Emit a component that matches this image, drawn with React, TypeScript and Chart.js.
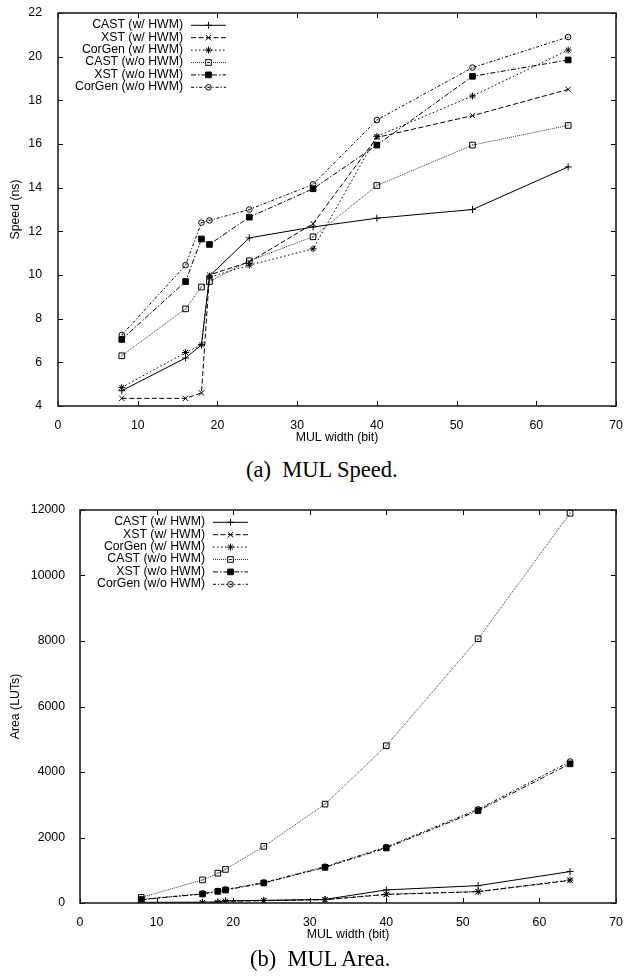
import React, { useEffect, useRef } from 'react';
import { Chart, registerables } from 'chart.js';
import { drawPoint } from 'chart.js/helpers';

Chart.register(...registerables);

// ---- data ----
const widths = [8, 16, 18, 19, 24, 32, 40, 52, 64];
const seriesNames = [
  'CAST (w/ HWM)',
  'XST (w/ HWM)',
  'CorGen (w/ HWM)',
  'CAST (w/o HWM)',
  'XST (w/o HWM)',
  'CorGen (w/o HWM)',
];

const speedCastHwm = [4.7, 6.2, 6.8, 9.95, 11.7, 12.2, 12.6, 13.0, 14.95];
const speedXstHwm = [4.35, 4.35, 4.6, 10.0, 10.6, 12.35, 16.3, 17.3, 18.5];
const speedCorGenHwm = [4.85, 6.45, 6.8, 9.9, 10.45, 11.2, 16.35, 18.2, 20.3];
const speedCastNoHwm = [6.3, 8.45, 9.45, 9.7, 10.65, 11.75, 14.1, 15.95, 16.85];
const speedXstNoHwm = [7.05, 9.7, 11.65, 11.4, 12.65, 13.95, 15.95, 19.1, 19.85];
const speedCorGenNoHwm = [7.25, 10.45, 12.4, 12.5, 13.0, 14.15, 17.1, 19.5, 20.9];

const areaCastHwm = [20, 25, 35, 70, 80, 110, 400, 530, 960];
const areaXstHwm = [5, 10, 15, 50, 70, 100, 260, 345, 690];
const areaCorGenHwm = [8, 12, 18, 55, 75, 105, 270, 350, 700];
const areaCastNoHwm = [170, 705, 910, 1025, 1730, 3020, 4800, 8070, 11900];
const areaXstNoHwm = [100, 275, 355, 395, 610, 1090, 1680, 2820, 4250];
const areaCorGenNoHwm = [110, 285, 370, 410, 625, 1110, 1710, 2860, 4320];

const xTickValues = [0, 10, 20, 30, 40, 50, 60, 70];
const speedTickValues = [4, 6, 8, 10, 12, 14, 16, 18, 20, 22];
const areaTickValues = [0, 2000, 4000, 6000, 8000, 10000, 12000];

// ---- styles ----
const FONT = '"Liberation Sans", Arial, Helvetica, sans-serif';
const seriesStyles = [
  { pointStyle: 'cross', radius: 3.5, dash: [], fill: 'rgba(0,0,0,0)', color: '#000', dot: false },
  { pointStyle: 'crossRot', radius: 3.8, dash: [5, 2.5], fill: 'rgba(0,0,0,0)', color: '#000', dot: false },
  { pointStyle: 'star', radius: 3.5, dash: [1.6, 2.4], fill: 'rgba(0,0,0,0)', color: '#000', dot: false },
  { pointStyle: 'rect', radius: 4, dash: [1, 1], fill: 'rgba(0,0,0,0)', color: '#333', dot: true },
  { pointStyle: 'rect', radius: 4, dash: [5, 2, 1.5, 2], fill: '#000', color: '#000', dot: false },
  { pointStyle: 'circle', radius: 2.8, dash: [3, 2, 1.2, 2], fill: 'rgba(0,0,0,0)', color: '#000', dot: true },
];

function makeDatasets(series: number[][]) {
  return series.map((vals, i) => {
    const st = seriesStyles[i];
    return {
      label: seriesNames[i],
      data: widths.map((x, j) => ({ x, y: vals[j] })),
      borderColor: st.color,
      borderWidth: 1,
      borderDash: st.dash,
      pointStyle: st.pointStyle,
      pointRadius: st.radius,
      pointBorderColor: '#000',
      pointBackgroundColor: st.fill,
      pointBorderWidth: 1,
      centerDot: st.dot,
      fill: false,
      tension: 0,
    };
  });
}

const gnuFrame = {
  id: 'gnuFrame',
  afterDatasetsDraw(chart: any) {
    const { ctx, chartArea: a, scales } = chart;
    ctx.save();
    // centre dots of open markers
    ctx.fillStyle = '#000';
    chart.data.datasets.forEach((ds: any, i: number) => {
      if (!ds.centerDot) return;
      chart.getDatasetMeta(i).data.forEach((el: any) => {
        ctx.fillRect(Math.round(el.x) - 0.5, Math.round(el.y) - 0.5, 1, 1);
      });
    });
    ctx.setLineDash([]);
    ctx.strokeStyle = '#000';
    ctx.lineWidth = 1;
    const L = 5;
    ctx.beginPath();
    scales.x.ticks.forEach((t: any) => {
      const px = Math.round(scales.x.getPixelForValue(t.value)) + 0.5;
      ctx.moveTo(px, a.bottom);
      ctx.lineTo(px, a.bottom - L);
      ctx.moveTo(px, a.top);
      ctx.lineTo(px, a.top + L);
    });
    scales.y.ticks.forEach((t: any) => {
      const py = Math.round(scales.y.getPixelForValue(t.value)) + 0.5;
      ctx.moveTo(a.left, py);
      ctx.lineTo(a.left + L, py);
      ctx.moveTo(a.right, py);
      ctx.lineTo(a.right - L, py);
    });
    ctx.stroke();
    ctx.lineWidth = 1.6;
    ctx.strokeStyle = '#222';
    ctx.strokeRect(a.left, a.top, a.right - a.left, a.bottom - a.top);
    ctx.restore();
  },
};

const gnuLegend = {
  id: 'gnuLegend',
  afterDatasetsDraw(chart: any) {
    const { ctx, chartArea: a } = chart;
    ctx.save();
    chart.data.datasets.forEach((ds: any, i: number) => {
      const y = a.top + 11.8 + i * 12.4;
      const left = a.left;
      ctx.setLineDash([]);
      ctx.font = '12.3px ' + FONT;
      ctx.fillStyle = '#000';
      ctx.textAlign = 'right';
      ctx.textBaseline = 'middle';
      ctx.fillText(ds.label, left + 125, y);
      ctx.strokeStyle = ds.borderColor;
      ctx.lineWidth = ds.borderWidth;
      ctx.setLineDash(ds.borderDash || []);
      ctx.beginPath();
      ctx.moveTo(left + 133, y + 0.5);
      ctx.lineTo(left + 168, y + 0.5);
      ctx.stroke();
      ctx.setLineDash([]);
      ctx.strokeStyle = '#000';
      ctx.fillStyle = ds.pointBackgroundColor;
      ctx.lineWidth = 1;
      drawPoint(
        ctx,
        { pointStyle: ds.pointStyle, rotation: 0, radius: ds.pointRadius, borderWidth: 1 } as any,
        left + 150.5,
        y + 0.5
      );
      if (ds.centerDot) {
        ctx.fillStyle = '#000';
        ctx.fillRect(left + 150, y, 1, 1);
      }
    });
    ctx.restore();
  },
};

function makeConfig(opts: {
  series: number[][];
  yTicks: number[];
  yMin: number;
  yMax: number;
  yTitle: string;
  yWidth: number;
  yPad: number;
  padTop: number;
}): any {
  const font = { family: FONT, size: 12.3 };
  return {
    type: 'line',
    data: { datasets: makeDatasets(opts.series) },
    plugins: [gnuFrame, gnuLegend],
    options: {
      animation: false,
      responsive: false,
      events: [],
      layout: { padding: { top: opts.padTop, right: 9, left: 0, bottom: 0 } },
      plugins: { legend: { display: false }, tooltip: { enabled: false } },
      scales: {
        x: {
          type: 'linear',
          min: 0,
          max: 70,
          afterBuildTicks: (s: any) => {
            s.ticks = xTickValues.map((v) => ({ value: v }));
          },
          afterFit: (s: any) => {
            s.height = 44;
            s.paddingLeft = 0;
            s.paddingRight = 0;
          },
          ticks: {
            font,
            color: '#000',
            padding: 4,
            maxRotation: 0,
            autoSkip: false,
            callback: (v: any) => String(v),
          },
          grid: { display: false },
          border: { display: false },
          title: {
            display: true,
            text: 'MUL width (bit)',
            font,
            color: '#000',
            padding: { top: 0, bottom: 5 },
          },
        },
        y: {
          type: 'linear',
          min: opts.yMin,
          max: opts.yMax,
          afterBuildTicks: (s: any) => {
            s.ticks = opts.yTicks.map((v) => ({ value: v }));
          },
          afterFit: (s: any) => {
            s.width = opts.yWidth;
            s.paddingTop = 0;
            s.paddingBottom = 0;
          },
          ticks: {
            font,
            color: '#000',
            padding: opts.yPad,
            autoSkip: false,
            callback: (v: any) => String(v),
          },
          grid: { display: false },
          border: { display: false },
          title: {
            display: true,
            text: opts.yTitle,
            font,
            color: '#000',
            padding: { top: 8, bottom: 0 },
          },
        },
      },
    },
  };
}

function ChartCanvas(props: { config: any; top: number; height: number }) {
  const ref = useRef<HTMLCanvasElement | null>(null);
  useEffect(() => {
    if (!ref.current) return;
    const chart = new Chart(ref.current, props.config);
    return () => chart.destroy();
  }, []);
  return (
    <canvas
      ref={ref}
      width={625}
      height={props.height}
      style={{ position: 'absolute', left: 0, top: props.top, width: 625, height: props.height }}
    />
  );
}

const captionStyle: React.CSSProperties = {
  position: 'absolute',
  fontFamily: '"Liberation Serif", "Times New Roman", serif',
  fontSize: 22.5,
  lineHeight: '24px',
  whiteSpace: 'nowrap',
  color: '#000',
};

export default function App() {
  const speedConfig = makeConfig({
    series: [speedCastHwm, speedXstHwm, speedCorGenHwm, speedCastNoHwm, speedXstNoHwm, speedCorGenNoHwm],
    yTicks: speedTickValues,
    yMin: 4,
    yMax: 22,
    yTitle: 'Speed (ns)',
    yWidth: 58,
    yPad: 8,
    padTop: 13,
  });
  const areaConfig = makeConfig({
    series: [areaCastHwm, areaXstHwm, areaCorGenHwm, areaCastNoHwm, areaXstNoHwm, areaCorGenNoHwm],
    yTicks: areaTickValues,
    yMin: 0,
    yMax: 12000,
    yTitle: 'Area (LUTs)',
    yWidth: 80,
    yPad: 7,
    padTop: 20,
  });
  return (
    <div style={{ position: 'absolute', left: 0, top: 0, width: 625, height: 976, background: '#fff', overflow: 'hidden' }}>
      <ChartCanvas config={speedConfig} top={0} height={450} />
      <div style={{ ...captionStyle, left: 246, top: 458 }}>(a)&nbsp;&nbsp;MUL Speed.</div>
      <ChartCanvas config={areaConfig} top={490} height={457} />
      <div style={{ ...captionStyle, left: 250, top: 947 }}>(b)&nbsp;&nbsp;MUL Area.</div>
    </div>
  );
}
